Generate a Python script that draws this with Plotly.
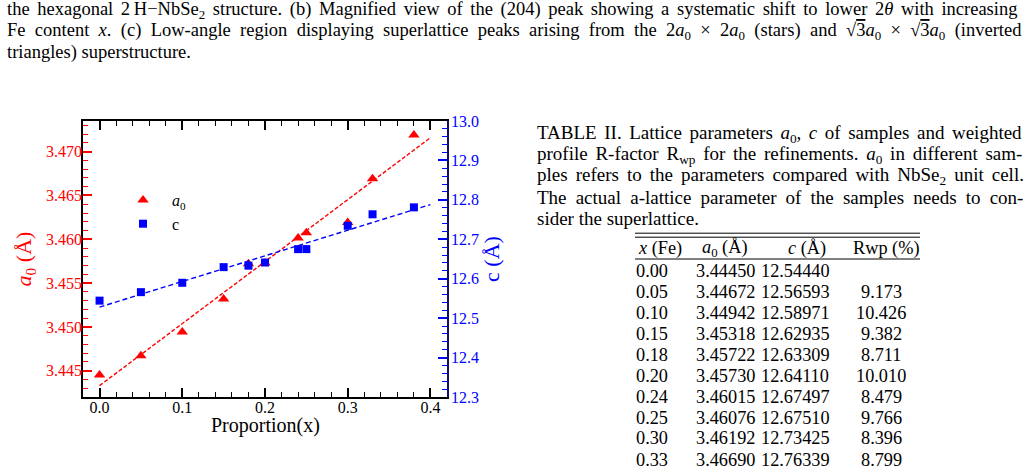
import plotly.graph_objects as go

# ---------------- data ----------------
x_fe = [0.00, 0.05, 0.10, 0.15, 0.18, 0.20, 0.24, 0.25, 0.30, 0.33, 0.38]
a0_vals = [3.44450, 3.44672, 3.44942, 3.45318, 3.45722, 3.45730, 3.46015, 3.46076, 3.46192, 3.46690, 3.4719]
c_vals = [12.54440, 12.56593, 12.58971, 12.62935, 12.63309, 12.64110, 12.67497, 12.67510, 12.73425, 12.76339, 12.781]
rwp_vals = [None, 9.173, 10.426, 9.382, 8.711, 10.010, 8.479, 9.766, 8.396, 8.799, None]
n_table_rows = 10

# linear-fit end points
fit_x = [0.0, 0.4]
fit_a0 = [3.4433, 3.4716]
fit_c = [12.528, 12.788]

x_ticks = [0.0, 0.1, 0.2, 0.3, 0.4]

# (text, word-spacing px)
caption_lines = [
    ("the hexagonal 2\u2009H\u2212NbSe<sub>2</sub> structure. (b) Magnified view of the (204) peak showing a systematic shift to lower 2<i>θ</i> with increasing", 3.0),
    ("Fe content <i>x</i>. (c) Low-angle region displaying superlattice peaks arising from the 2<i>a</i><sub>0</sub> × 2<i>a</i><sub>0</sub> (stars) and √<span style='text-decoration:overline'>3</span><i>a</i><sub>0</sub> × √<span style='text-decoration:overline'>3</span><i>a</i><sub>0</sub> (inverted", 4.7),
    ("triangles) superstructure.", 0),
]
table_caption_lines = [
    ("TABLE II. Lattice parameters <i>a</i><sub>0</sub>, <i>c</i> of samples and weighted", 2.8),
    ("profile R-factor R<sub>wp</sub> for the refinements. <i>a</i><sub>0</sub> in different sam-", 3.0),
    ("ples refers to the parameters compared with NbSe<sub>2</sub> unit cell.", 3.3),
    ("The actual a-lattice parameter of the samples needs to con-", 4.4),
    ("sider the superlattice.", 0),
]
table_headers = ["<i>x</i> (Fe)", "<i>a</i><sub>0</sub> (Å)", "<i>c</i> (Å)", "Rwp (%)"]
x_title = "Proportion(x)"

# ---------------- layout geometry ----------------
W, H = 1029, 473
L, R, T, B = 83, 447, 121, 397
RED = "#ff0000"
BLUE = "#0000ff"
SERIF = "Liberation Serif, Times New Roman, serif"


def px(x):
    return (x - L) / (R - L)


def py(y):
    return (B - y) / (B - T)


def spaced(text, ws):
    if ws <= 0:
        return text
    return f"<span style='word-spacing:{ws}px'>{text}</span>"


fig = go.Figure()

fig.add_trace(go.Scatter(x=fit_x, y=fit_a0, mode="lines",
                         line=dict(color=RED, width=1.4, dash="4px,2px"),
                         showlegend=False, hoverinfo="skip"))
fig.add_trace(go.Scatter(x=fit_x, y=fit_c, mode="lines", yaxis="y2",
                         line=dict(color=BLUE, width=1.4, dash="5px,3px"),
                         showlegend=False, hoverinfo="skip"))
fig.add_trace(go.Scatter(x=x_fe, y=a0_vals, mode="markers", name="<i>a</i><sub>0</sub>",
                         marker=dict(symbol="triangle-up", size=10, color=RED)))
fig.add_trace(go.Scatter(x=x_fe, y=c_vals, mode="markers", name="c", yaxis="y2",
                         marker=dict(symbol="square", size=8, color=BLUE)))

fig.update_layout(
    width=W, height=H,
    margin=dict(l=L, r=W - R, t=T, b=H - B, pad=0),
    paper_bgcolor="white", plot_bgcolor="white",
    font=dict(family=SERIF, size=16, color="black"),
    xaxis=dict(
        range=[-0.02, 0.42], tickvals=x_ticks, tickformat=".1f",
        ticks="inside", ticklen=9, tickwidth=1.5, tickcolor="black",
        minor=dict(dtick=0.02, tick0=0, ticks="inside", ticklen=5, tickwidth=1, tickcolor="black"),
        showline=True, linecolor="black", linewidth=1.5, mirror="ticks",
        showgrid=False, zeroline=False, ticklabelstandoff=-5,
        tickfont=dict(family=SERIF, size=16, color="black"),
    ),
    yaxis=dict(
        range=[3.442, 3.4735], dtick=0.005, tick0=3.445, tickformat=".3f",
        ticks="inside", ticklen=9, tickwidth=1.5, tickcolor=RED,
        minor=dict(dtick=0.001, ticks="inside", ticklen=5, tickwidth=1, tickcolor=RED),
        showline=True, linecolor="black", linewidth=1.5,
        showgrid=False, zeroline=False, ticklabelstandoff=-4,
        tickfont=dict(family=SERIF, size=16, color=RED),
        title=dict(text="<i>a</i><sub>0</sub> (Å)", font=dict(family=SERIF, size=22, color=RED), standoff=8),
    ),
    yaxis2=dict(
        overlaying="y", side="right",
        range=[12.3, 13.0], dtick=0.1, tick0=12.3, tickformat=".1f",
        ticks="inside", ticklen=9, tickwidth=1.5, tickcolor=BLUE,
        minor=dict(dtick=0.02, ticks="inside", ticklen=5, tickwidth=1, tickcolor=BLUE),
        showline=True, linecolor="#101060", linewidth=1.5,
        showgrid=False, zeroline=False, ticklabelstandoff=-1,
        tickfont=dict(family=SERIF, size=16, color=BLUE),
        title=dict(text="c (Å)", font=dict(family=SERIF, size=22, color=BLUE), standoff=4),
    ),
    legend=dict(x=px(114), y=py(183), xanchor="left", yanchor="top",
                bgcolor="rgba(0,0,0,0)", borderwidth=0,
                font=dict(family=SERIF, size=16, color="black"),
                itemwidth=48, tracegroupgap=0),
)

CAP_FONT = dict(family=SERIF, size=18.5, color="black")
TCAP_FONT = dict(family=SERIF, size=19, color="black")
TAB_FONT = dict(family=SERIF, size=18.3, color="black")

annotations = []
# x-axis title
annotations.append(dict(text=x_title, x=0.5, y=py(425), xref="paper", yref="paper",
                        xanchor="center", yanchor="middle", showarrow=False,
                        font=dict(family=SERIF, size=20, color="black")))
# top caption
for i, (line, ws) in enumerate(caption_lines):
    annotations.append(dict(text=spaced(line, ws), x=px(5), y=py(10 + 21 * i), xref="paper", yref="paper",
                            xanchor="left", yanchor="middle", showarrow=False, font=CAP_FONT))
# table caption
for i, (line, ws) in enumerate(table_caption_lines):
    annotations.append(dict(text=spaced(line, ws), x=px(535), y=py(134 + 21 * i), xref="paper", yref="paper",
                            xanchor="left", yanchor="middle", showarrow=False, font=TCAP_FONT))
# table header
header_pos = [(636, "left"), (725, "center"), (807, "center"), (886, "center")]
for (hx, anc), htxt in zip(header_pos, table_headers):
    annotations.append(dict(text=htxt, x=px(hx), y=py(248), xref="paper", yref="paper",
                            xanchor=anc, yanchor="middle", showarrow=False, font=TAB_FONT))
# table rows
for i in range(n_table_rows):
    yy = py(270.5 + 21 * i)
    cells = [
        (f"{x_fe[i]:.2f}", 634, "left"),
        (f"{a0_vals[i]:.5f}", 725, "center"),
        (f"{c_vals[i]:.5f}", 795, "center"),
        ("" if rwp_vals[i] is None else f"{rwp_vals[i]:.3f}", 881, "center"),
    ]
    for txt, cx, anc in cells:
        if txt:
            annotations.append(dict(text=txt, x=px(cx), y=yy, xref="paper", yref="paper",
                                    xanchor=anc, yanchor="middle", showarrow=False, font=TAB_FONT))
fig.update_layout(annotations=annotations)

shapes = []
for ry in (233.2, 237.2, 259):
    shapes.append(dict(type="line", xref="paper", yref="paper",
                       x0=px(635), x1=px(920), y0=py(ry), y1=py(ry),
                       line=dict(color="black", width=1)))
fig.update_layout(shapes=shapes)

fig.write_html("out.html")
